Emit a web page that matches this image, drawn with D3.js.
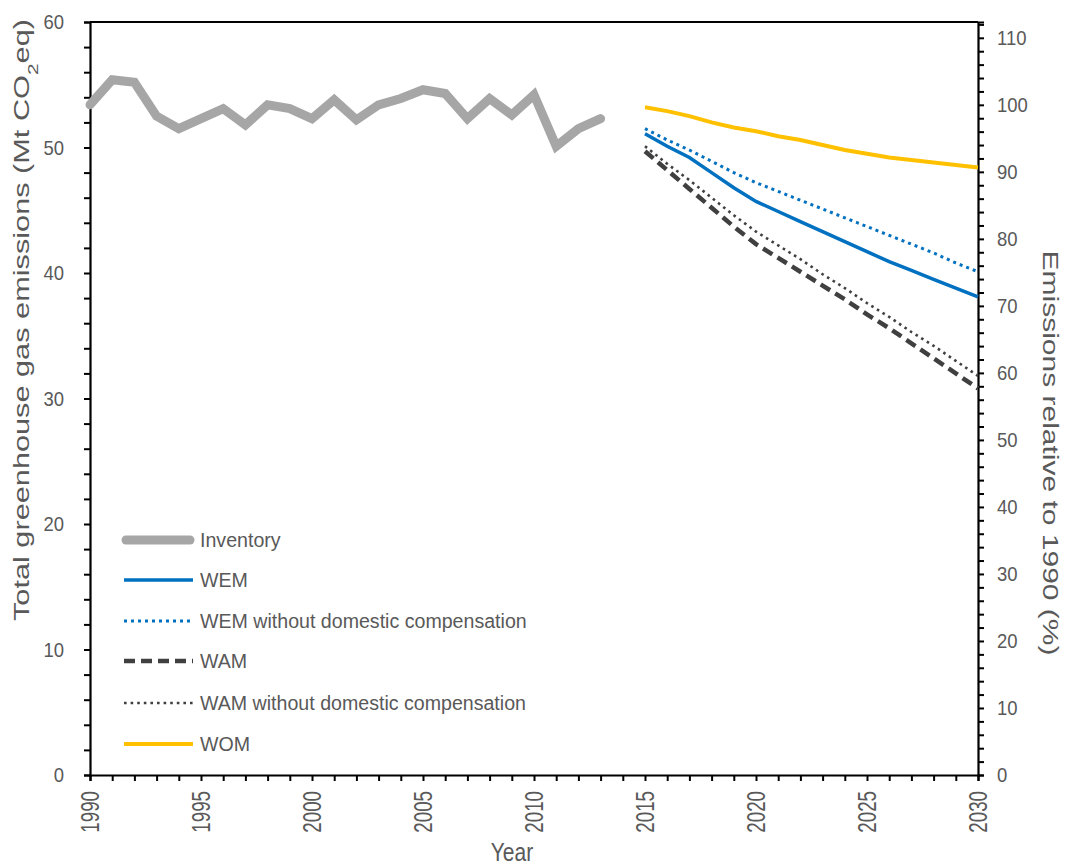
<!DOCTYPE html>
<html>
<head>
<meta charset="utf-8">
<script src="https://cdn.jsdelivr.net/npm/d3@7"></script>
<style>
  html, body { margin: 0; padding: 0; background: #fff; }
  svg { display: block; font-family: "Liberation Sans", Arial, sans-serif; }
</style>
</head>
<body>
<svg id="chart" width="1067" height="866"></svg>
<script>
// Inventory emissions, Mt CO2eq, 1990-2013
const inventoryYears = d3.range(1990, 2014);
const inventory = [53.4, 55.4, 55.2, 52.5, 51.5, 52.3, 53.1, 51.8, 53.4, 53.1, 52.3, 53.8,
                   52.2, 53.4, 53.9, 54.6, 54.3, 52.3, 53.9, 52.6, 54.2, 50.1, 51.5, 52.3];

// Projection scenarios, Mt CO2eq, 2015-2030
const projectionYears = d3.range(2015, 2031);
const wem      = [51.1, 50.1, 49.2, 48.0, 46.8, 45.7, 44.9, 44.1, 43.3, 42.5, 41.7, 40.9, 40.2, 39.5, 38.8, 38.1];
const wemNoDC  = [51.5, 50.6, 49.8, 48.9, 48.0, 47.2, 46.5, 45.8, 45.1, 44.4, 43.7, 43.0, 42.3, 41.6, 40.8, 40.1];
const wam      = [49.7, 48.2, 46.7, 45.2, 43.7, 42.3, 41.2, 40.1, 39.0, 37.9, 36.7, 35.6, 34.4, 33.2, 32.0, 30.8];
const wamNoDC  = [50.1, 48.7, 47.4, 46.0, 44.6, 43.3, 42.2, 41.1, 39.9, 38.8, 37.6, 36.5, 35.3, 34.2, 33.0, 31.8];
const wom      = [53.2, 52.9, 52.5, 52.0, 51.6, 51.3, 50.9, 50.6, 50.2, 49.8, 49.5, 49.2, 49.0, 48.8, 48.6, 48.4];

const seriesNames = ["Inventory", "WEM", "WEM without domestic compensation", "WAM",
                     "WAM without domestic compensation", "WOM"];

// Axis ticks
const leftTicks = d3.range(0, 61, 10);
const rightTicks = d3.range(0, 111, 10);
const yearLabels = d3.range(1990, 2031, 5);

const svg = d3.select("#chart");
const x0 = 90, x1 = 978, yTop = 22, yBot = 775;
const textColor = "#595959";

const x = d3.scaleLinear().domain([1990, 2030]).range([x0, x1]);
const y = d3.scaleLinear().domain([0, 60]).range([yBot, yTop]);
// Right axis: percentage of the 1990 inventory value
const base1990 = inventory[0];
const pctMax = 60 / base1990 * 100;
const yPct = d3.scaleLinear().domain([0, pctMax]).range([yBot, yTop]);

// Squeeze text horizontally to a narrow face
function narrow(sel, f) {
  sel.each(function () {
    const len = this.getComputedTextLength();
    d3.select(this).attr("textLength", len * f).attr("lengthAdjust", "spacingAndGlyphs");
  });
}

// Frame top line
svg.append("line").attr("x1", x0).attr("x2", x1).attr("y1", yTop).attr("y2", yTop)
  .attr("stroke", "#000").attr("stroke-width", 2.2);

// Left axis with minor ticks every 2
const gL = svg.append("g").attr("transform", `translate(${x0},0)`)
  .call(d3.axisLeft(y).tickValues(d3.range(0, 61, 2)).tickSize(6)
    .tickFormat(d => leftTicks.includes(d) ? d : ""));
gL.selectAll("text").attr("x", -26).attr("fill", textColor).style("font-size", "21px");

// Right axis with minor ticks every 2%
const gR = svg.append("g").attr("transform", `translate(${x1},0)`)
  .call(d3.axisRight(yPct).tickValues(d3.range(0, pctMax, 2)).tickSize(6)
    .tickFormat(d => rightTicks.includes(d) ? d : ""));
gR.selectAll("text").attr("x", 19).attr("fill", textColor).style("font-size", "21px");

// Bottom axis, one tick per year
const gB = svg.append("g").attr("transform", `translate(0,${yBot})`)
  .call(d3.axisBottom(x).tickValues(d3.range(1990, 2031)).tickSize(6)
    .tickFormat(d => yearLabels.includes(d) ? d : ""));
gB.selectAll("text")
  .attr("transform", "rotate(-90)")
  .attr("x", -16).attr("y", 0).attr("dy", "0.35em")
  .attr("text-anchor", "end")
  .attr("fill", textColor).style("font-size", "25px");

[gL, gR, gB].forEach(g => {
  g.select(".domain").attr("stroke", "#000").attr("stroke-width", 2.2);
  g.selectAll(".tick line").attr("stroke", "#000").attr("stroke-width", 2);
  g.selectAll("text").style("font-family", "'Liberation Sans', Arial, sans-serif");
});
narrow(gL.selectAll("text"), 0.88);
narrow(gR.selectAll("text"), 0.88);
narrow(gB.selectAll("text"), 0.75);

// Axis titles
const leftTitle = svg.append("text")
  .attr("transform", "translate(29,320) rotate(-90)")
  .attr("text-anchor", "middle").attr("fill", textColor).style("font-size", "22px");
leftTitle.append("tspan").text("Total greenhouse gas emissions (Mt CO");
leftTitle.append("tspan").attr("baseline-shift", "sub").style("font-size", "15px").text("2");
leftTitle.append("tspan").text("eq)");
leftTitle.attr("textLength", 602).attr("lengthAdjust", "spacingAndGlyphs");

svg.append("text")
  .attr("transform", "translate(1043,453) rotate(90)")
  .attr("text-anchor", "middle").attr("fill", textColor).style("font-size", "22px")
  .text("Emissions relative to 1990 (%)")
  .attr("textLength", 405).attr("lengthAdjust", "spacingAndGlyphs");

const yearTitle = svg.append("text")
  .attr("x", 512).attr("y", 861)
  .attr("text-anchor", "middle").attr("fill", textColor).style("font-size", "25px")
  .text("Year");
narrow(yearTitle, 0.84);

// Series styles
const styles = [
  { color: "#A6A6A6", width: 9, dash: null, cap: "round" },
  { color: "#0070C0", width: 3.5, dash: null, cap: "butt" },
  { color: "#0070C0", width: 3, dash: "3 4", cap: "butt" },
  { color: "#404040", width: 4.5, dash: "11 6", cap: "butt" },
  { color: "#404040", width: 2.6, dash: "2.6 4", cap: "butt" },
  { color: "#FFC000", width: 4, dash: null, cap: "butt" }
];

const seriesData = [
  inventoryYears.map((yr, i) => [yr, inventory[i]]),
  projectionYears.map((yr, i) => [yr, wem[i]]),
  projectionYears.map((yr, i) => [yr, wemNoDC[i]]),
  projectionYears.map((yr, i) => [yr, wam[i]]),
  projectionYears.map((yr, i) => [yr, wamNoDC[i]]),
  projectionYears.map((yr, i) => [yr, wom[i]])
];

const line = d3.line().x(d => x(d[0])).y(d => y(d[1]));

// Draw order: projections, then inventory on top
const order = [5, 1, 2, 4, 3, 0];
order.forEach(i => {
  const s = styles[i];
  svg.append("path")
    .datum(seriesData[i])
    .attr("d", line)
    .attr("fill", "none")
    .attr("stroke", s.color)
    .attr("stroke-width", s.width)
    .attr("stroke-linecap", s.cap)
    .attr("stroke-linejoin", "miter")
    .attr("stroke-dasharray", s.dash);
});

// Legend
const legendRows = [540, 580, 621, 661, 703, 744];
const legend = svg.append("g");
seriesNames.forEach((name, i) => {
  const s = styles[i];
  const ly = legendRows[i];
  legend.append("line")
    .attr("x1", i === 0 ? 126 : 124).attr("x2", i === 0 ? 190 : 193)
    .attr("y1", ly).attr("y2", ly)
    .attr("stroke", s.color).attr("stroke-width", s.width)
    .attr("stroke-linecap", s.cap).attr("stroke-dasharray", s.dash);
  legend.append("text")
    .attr("x", 200).attr("y", ly).attr("dy", "0.35em")
    .attr("fill", textColor).style("font-size", "19.6px")
    .text(name);
});
</script>
</body>
</html>
